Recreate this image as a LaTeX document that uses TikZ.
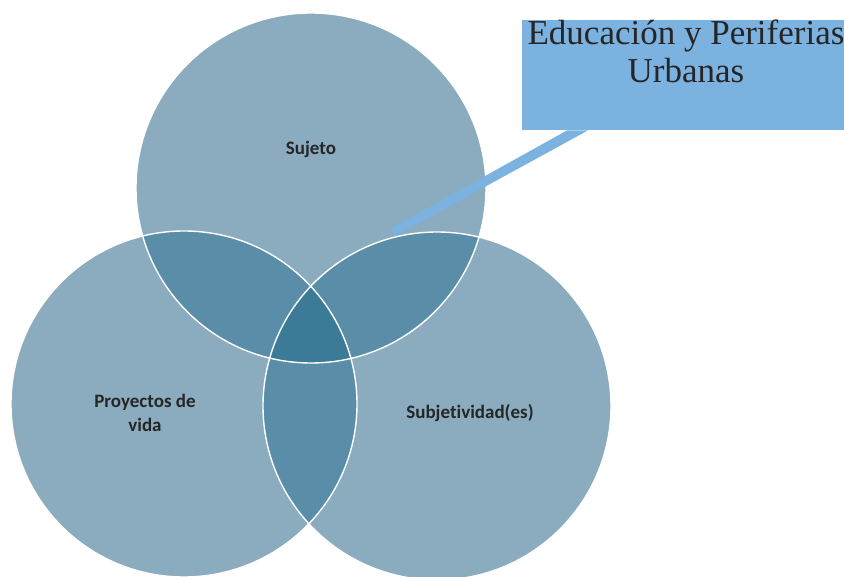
\documentclass[tikz,border=0pt]{standalone}
\usepackage{fontspec}
\setmainfont{Liberation Serif}
\newfontfamily\tagfont{Carlito}[Ligatures=NoCommon]
\definecolor{ringone}{HTML}{8BACBF}
\definecolor{ringtwo}{HTML}{5A8EA8}
\definecolor{ringthree}{HTML}{3B7B97}
\definecolor{callblue}{HTML}{7BB2E0}
\begin{document}
\begin{tikzpicture}[x=1pt, y=-1pt, line join=miter,
    rim/.style={draw=white, line width=1.4pt},
    tag/.style={font=\tagfont\bfseries\fontsize{19}{24}\selectfont, text=black!85, align=center, inner sep=0pt}]
    \useasboundingbox (0,0) rectangle (844,577);
    \coordinate (top) at (311,188);
    \coordinate (left) at (184,404);
    \coordinate (right) at (437,406);

    % circles and overlaps
    \fill[ringone] (top) circle (175) (left) circle (173) (right) circle (174);
    \begin{scope}
        \clip (top) circle (175);
        \fill[ringtwo] (left) circle (173) (right) circle (174);
    \end{scope}
    \begin{scope}
        \clip (left) circle (173);
        \fill[ringtwo] (right) circle (174);
    \end{scope}
    \begin{scope}
        \clip (top) circle (175);
        \clip (left) circle (173);
        \fill[ringthree] (right) circle (174);
    \end{scope}
    \draw[rim] (top) circle (175) (left) circle (173) (right) circle (174);

    \node[tag] (sujeto) at (311,149) {Sujeto};
    \node[tag] (proyectos) at (145,413) {Proyectos de\\vida};
    \node[tag] (subjetividad) at (470,413) {Subjetividad(es)};

    % callout
    \node[fill=callblue, minimum width=328pt, minimum height=110pt, anchor=north west, inner sep=0pt] (callout) at (522,20) {};
    \coordinate (tip) at (390,229);
    \fill[callblue] (tip) -- ([xshift=5pt, yshift=-7pt]tip) -- ([xshift=66pt]callout.south west) -- ([xshift=45pt]callout.south west) -- cycle;
    \node[anchor=north, align=center, inner sep=0pt, text=black!85, font=\fontsize{35}{38}\selectfont] (title) at (686,20) {Educación y Periferias\\Urbanas};
\end{tikzpicture}
\end{document}
